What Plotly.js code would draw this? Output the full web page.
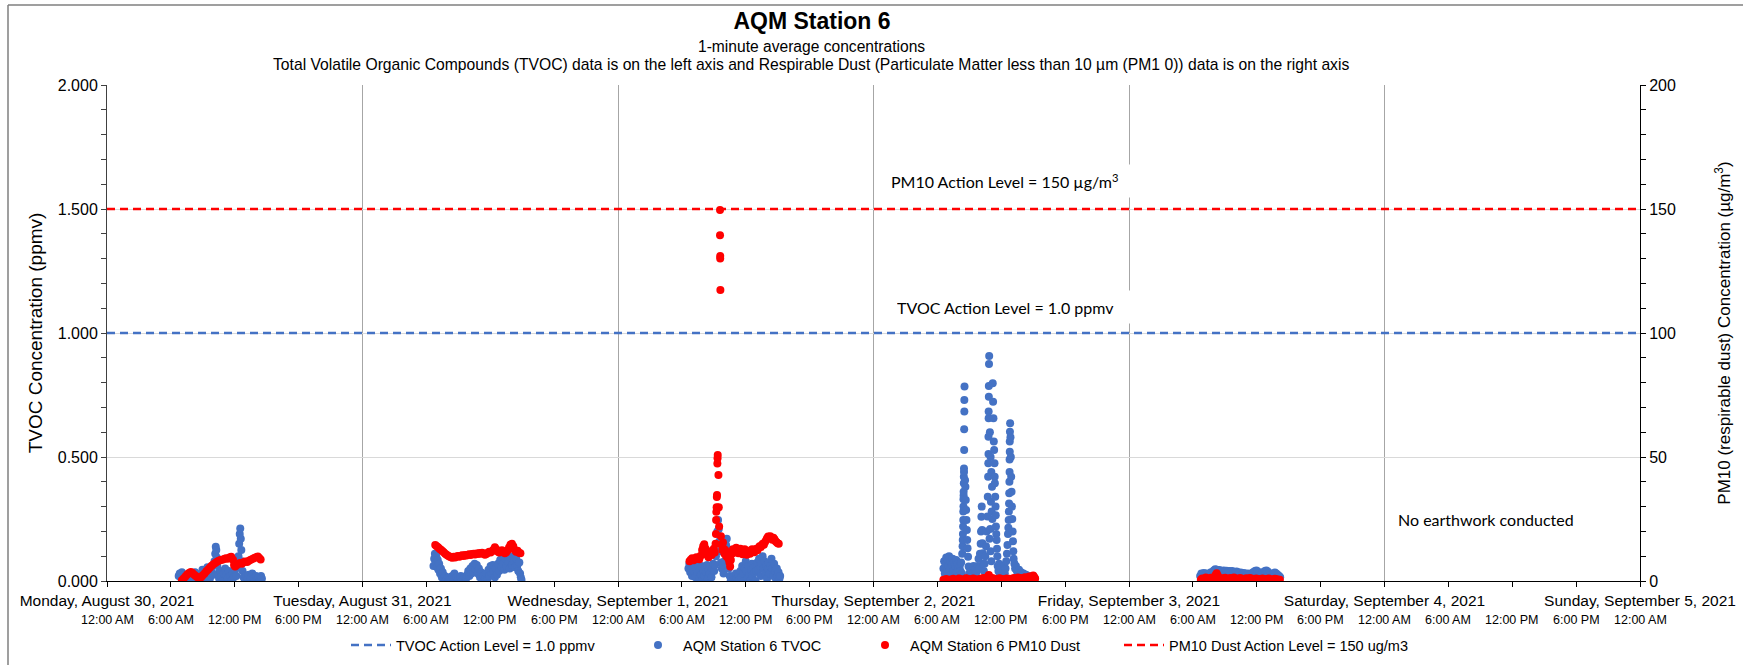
<!DOCTYPE html>
<html><head><meta charset="utf-8">
<script src="https://cdn.plot.ly/plotly-3.0.1.min.js"></script>
<style>html,body{margin:0;padding:0;background:#fff}#chart{width:1743px;height:665px}</style>
</head><body><div id="chart"></div><script>
// ---------------- data ----------------
const dayDates = ['2021-08-30','2021-08-31','2021-09-01','2021-09-02','2021-09-03','2021-09-04','2021-09-05'];
const dayLabels = ['Monday, August 30, 2021','Tuesday, August 31, 2021','Wednesday, September 1, 2021','Thursday, September 2, 2021','Friday, September 3, 2021','Saturday, September 4, 2021','Sunday, September 5, 2021'];
const hourOffsets = [0, 6, 12, 18];
const hourLabels = ['12:00 AM','6:00 AM','12:00 PM','6:00 PM'];
const tvocActionLevel = 1.0;     // ppmv
const pm10ActionLevel = 150;     // ug/m3

// [minutes after midnight, TVOC ppmv]
const tvoc0830 = [[404,0.02],[410,0.03],[416,0.015],[422,0.035],[428,0.01],[434,0.025],[440,0.005],[447,0.02],[454,0.0],[461,0.015],[468,0.03],[475,0.01],[482,0.0],[489,0.02],[496,0.035],[503,0.01],[510,0.025],[517,0.0],[524,0.015],[531,0.03],[538,0.045],[545,0.02],[552,0.005],[559,0.035],[566,0.055],[573,0.03],[580,0.01],[587,0.04],[594,0.06],[601,0.025],[606,0.08],[610,0.11],[613,0.138],[616,0.125],[619,0.095],[622,0.06],[626,0.03],[632,0.01],[638,0.04],[645,0.02],[652,0.0],[659,0.03],[666,0.05],[673,0.025],[680,0.01],[687,0.04],[694,0.02],[701,0.0],[708,0.03],[715,0.015],[722,0.045],[729,0.02],[736,0.06],[741,0.1],[745,0.15],[748,0.19],[751,0.212],[754,0.17],[757,0.125],[760,0.08],[764,0.04],[770,0.015],[777,0.0],[784,0.02],[791,0.005],[798,0.025],[805,0.0],[812,0.015],[819,0.03],[826,0.01],[833,0.0],[840,0.02],[847,0.005],[854,0.015],[861,0.0],[868,0.02],[873,0.01]];
const tvoc0831 = [[400,0.06],[404,0.09],[408,0.11],[412,0.075],[416,0.1],[420,0.055],[424,0.085],[428,0.045],[432,0.07],[437,0.03],[442,0.05],[447,0.015],[452,0.035],[458,0.005],[464,0.02],[470,0.0],[476,0.01],[482,0.0],[488,0.015],[494,0.005],[500,0.0],[506,0.02],[512,0.01],[518,0.03],[524,0.0],[530,0.015],[536,0.0],[542,0.01],[548,0.0],[554,0.02],[560,0.005],[566,0.0],[572,0.015],[578,0.0],[584,0.01],[590,0.025],[596,0.04],[602,0.02],[608,0.05],[614,0.03],[620,0.06],[626,0.035],[632,0.07],[638,0.045],[644,0.065],[650,0.03],[656,0.05],[662,0.015],[668,0.035],[674,0.0],[680,0.02],[686,0.0],[692,0.01],[698,0.03],[704,0.005],[710,0.045],[716,0.02],[722,0.06],[728,0.03],[734,0.065],[740,0.04],[746,0.015],[752,0.05],[758,0.025],[764,0.07],[770,0.04],[776,0.085],[782,0.055],[788,0.1],[794,0.07],[800,0.045],[806,0.09],[812,0.06],[818,0.1],[824,0.075],[830,0.05],[836,0.095],[842,0.065],[848,0.1],[854,0.08],[860,0.055],[866,0.09],[872,0.06],[878,0.04],[884,0.075],[888,0.03],[892,0.015],[896,0.005]];
const tvoc0901 = [[397,0.05],[402,0.07],[407,0.035],[412,0.06],[417,0.02],[422,0.055],[427,0.04],[432,0.065],[437,0.015],[442,0.05],[447,0.03],[452,0.06],[457,0.01],[462,0.045],[467,0.025],[472,0.06],[477,0.005],[482,0.04],[487,0.02],[492,0.055],[497,0.035],[502,0.065],[507,0.01],[512,0.045],[517,0.03],[522,0.06],[527,0.015],[532,0.05],[537,0.07],[542,0.04],[547,0.065],[552,0.1],[556,0.15],[560,0.2],[564,0.246],[568,0.21],[572,0.16],[576,0.12],[580,0.075],[585,0.05],[590,0.065],[595,0.03],[600,0.08],[605,0.11],[609,0.145],[613,0.17],[617,0.13],[621,0.09],[625,0.05],[630,0.02],[635,0.0],[640,0.015],[645,0.0],[650,0.02],[655,0.005],[660,0.0],[665,0.03],[670,0.01],[675,0.0],[680,0.025],[685,0.005],[690,0.04],[695,0.015],[700,0.06],[705,0.03],[710,0.0],[715,0.05],[720,0.08],[725,0.04],[730,0.01],[735,0.06],[740,0.03],[745,0.0],[750,0.045],[755,0.07],[760,0.02],[765,0.055],[770,0.035],[775,0.0],[780,0.04],[785,0.075],[790,0.045],[795,0.09],[800,0.06],[805,0.02],[810,0.07],[815,0.1],[820,0.05],[825,0.08],[830,0.03],[835,0.065],[840,0.01],[845,0.045],[850,0.075],[855,0.03],[860,0.06],[865,0.09],[870,0.05],[875,0.02],[880,0.07],[885,0.04],[890,0.01],[895,0.05],[900,0.02],[905,0.035],[910,0.01],[914,0.02]];
const tvoc0902 = [[394,0.05],[398,0.08],[402,0.03],[406,0.07],[410,0.095],[414,0.04],[418,0.085],[422,0.06],[426,0.1],[430,0.045],[434,0.08],[438,0.025],[442,0.065],[446,0.09],[450,0.04],[454,0.075],[458,0.02],[462,0.06],[466,0.085],[470,0.035],[474,0.07],[478,0.05],[482,0.02],[486,0.06],[490,0.04],[494,0.075],[498,0.03],
 [500,0.11],[502,0.14],[503,0.165],[504,0.19],[505,0.22],[506,0.246],[506,0.28],[507,0.30],[507,0.33],[508,0.345],[508,0.36],[509,0.394],[509,0.42],[510,0.44],[510,0.454],[511,0.528],[511,0.612],[512,0.683],[512,0.73],[513,0.784],
 [516,0.406],[518,0.38],[520,0.327],[522,0.286],[524,0.246],[526,0.206],[528,0.165],[530,0.132],[533,0.098],[536,0.058],[540,0.03],[544,0.05],[548,0.02],[552,0.04],[556,0.01],[560,0.03],[564,0.06],[568,0.02],[572,0.045],[576,0.015],[580,0.035],[584,0.01],
 [588,0.06],[592,0.09],[596,0.05],[600,0.11],[604,0.15],[606,0.2],[608,0.259],[610,0.30],[612,0.206],[614,0.152],[616,0.112],[618,0.071],
 [622,0.04],[626,0.07],[630,0.1],[634,0.14],[638,0.2],[642,0.26],[644,0.34],[646,0.42],[647,0.475],[648,0.512],[648,0.582],[649,0.656],[649,0.683],[650,0.743],[650,0.786],[651,0.875],[652,0.907],
 [654,0.17],[656,0.6],[658,0.21],[660,0.5],[660,0.12],[662,0.32],[664,0.44],[664,0.08],[666,0.28],[668,0.38],[670,0.25],
 [672,0.797],[674,0.723],[676,0.656],[678,0.562],[680,0.528],[682,0.475],[683,0.42],[684,0.394],[686,0.34],[688,0.30],[689,0.265],[690,0.22],[692,0.19],[694,0.165],[696,0.13],[698,0.1],[700,0.06],
 [704,0.04],[708,0.07],[712,0.03],[716,0.055],[720,0.02],[724,0.045],[728,0.015],[732,0.04],[736,0.06],[740,0.03],[744,0.05],[748,0.08],
 [752,0.11],[755,0.145],[758,0.19],[760,0.215],[762,0.246],[763,0.28],[764,0.313],[765,0.354],[766,0.40],[767,0.44],[767,0.49],[768,0.521],[768,0.562],[769,0.602],[770,0.636],
 [772,0.58],[774,0.50],[776,0.42],[778,0.36],[780,0.30],[782,0.25],[784,0.20],[786,0.16],[788,0.12],[790,0.09],[794,0.07],[798,0.05],[803,0.06],[808,0.04],[814,0.03],[820,0.045],[826,0.02],[832,0.035],[838,0.02],[845,0.03],[852,0.015],[860,0.025],[868,0.01],[876,0.02],[884,0.015],[892,0.01],[900,0.02],[908,0.01]];
const tvoc0903 = [[401,0.02],[408,0.03],[415,0.025],[422,0.032],[430,0.02],[438,0.03],[446,0.025],[454,0.028],[462,0.035],[470,0.03],[478,0.042],[486,0.047],[494,0.045],[502,0.04],[510,0.044],[518,0.035],[526,0.04],[534,0.042],[542,0.038],[550,0.041],[558,0.036],[566,0.04],[574,0.038],[582,0.04],[590,0.036],[598,0.032],[606,0.038],[614,0.035],[622,0.03],[630,0.034],[638,0.028],[646,0.032],[654,0.03],[662,0.026],[670,0.03],[678,0.025],[686,0.028],[694,0.032],[702,0.036],[710,0.04],[718,0.042],[726,0.038],[734,0.03],[742,0.026],[750,0.032],[758,0.036],[766,0.04],[774,0.042],[782,0.038],[790,0.032],[798,0.028],[806,0.025],[814,0.03],[822,0.034],[830,0.03],[838,0.025],[846,0.02],[852,0.015]];

// [minutes after midnight, PM10 ug/m3]
const pm0830 = [[422,0.3],[432,1.0],[442,1.8],[452,2.6],[462,3.2],[472,3.6],[480,3.3],[490,2.6],[500,2.0],[510,1.5],[520,1.2],[530,1.5],[540,2.3],[550,3.0],[560,3.9],[570,4.6],[580,5.4],[590,6.1],[600,6.8],[610,7.3],[620,7.8],[630,8.2],[640,8.5],[650,8.6],[660,8.9],[670,9.2],[680,9.0],[690,9.5],[700,9.8],[710,8.6],[716,6.5],[722,5.8],[730,6.4],[740,7.0],[750,7.3],[760,7.0],[770,7.6],[780,7.9],[790,7.7],[800,8.2],[810,8.6],[820,8.9],[830,9.3],[840,9.6],[850,9.9],[858,9.3],[866,8.7]];
const pm0831 = [[410,14.5],[418,14.0],[426,13.6],[434,13.0],[442,12.6],[450,12.1],[458,11.6],[466,11.0],[474,10.6],[482,10.2],[490,9.9],[498,9.6],[506,9.4],[514,9.8],[522,9.5],[530,9.9],[538,10.1],[546,9.8],[554,10.2],[562,10.4],[570,10.1],[578,10.5],[586,10.3],[594,10.6],[602,10.8],[610,10.5],[618,10.9],[626,11.0],[634,10.7],[642,11.1],[650,10.9],[658,11.3],[666,11.0],[674,11.4],[682,11.1],[690,10.6],[698,10.9],[706,11.4],[714,11.8],[722,11.5],[730,12.0],[738,12.6],[746,13.6],[754,12.8],[762,11.9],[770,11.5],[778,12.0],[786,12.4],[794,11.8],[802,11.2],[810,11.6],[818,12.4],[826,13.5],[834,14.6],[842,15.0],[850,14.0],[858,12.5],[866,11.8],[874,12.2],[882,11.4],[890,11.2]];
const pm0901 = [[403,8.0],[410,8.6],[418,9.2],[426,8.4],[434,9.0],[442,9.6],[450,9.1],[458,8.8],[466,10.2],[474,12.5],[480,14.0],[486,14.8],[492,13.2],[498,11.5],[504,10.4],[510,9.6],[516,10.8],[522,12.0],[528,10.5],[534,11.8],[540,13.0],[545,11.5],
 [550,15.0],[552,19.0],[553,24.6],[554,27.9],[556,29.7],[557,33.9],[558,34.7],[560,47.4],[561,49.5],[562,50.8],[566,42.7],[568,29.7],[570,22.0],
 [575,149.6],[575,139.4],[576,131.0],[576,130.0],[577,117.3],
 [580,18.0],[584,14.5],[588,12.5],[592,15.5],[596,13.0],[600,11.0],[604,12.5],[610,10.0],[616,11.2],[622,9.0],[628,7.5],[632,5.8],[636,8.5],[642,11.0],[648,12.8],[654,11.5],[660,12.6],[666,13.4],[672,12.0],[678,11.2],[684,12.4],[690,13.0],[696,11.8],[702,10.8],[708,11.9],[714,12.8],[720,11.5],[726,10.6],[732,11.4],[738,12.2],[744,11.0],[750,12.0],[756,12.8],[762,12.2],[768,11.6],[774,12.5],[780,13.0],[786,12.4],[792,13.3],[798,14.0],[804,13.6],[810,14.4],[816,15.0],[822,14.6],[828,15.6],[834,16.4],[840,17.2],[846,17.9],[852,17.4],[858,18.0],[864,17.2],[870,16.6],[876,17.4],[882,16.8],[888,16.0],[894,15.6],[900,15.2],[906,15.0]];
const pm0902 = [[394,0.5],[402,0.2],[410,0.8],[418,0.3],[426,0.0],[434,0.6],[442,0.2],[450,0.9],[458,0.4],[466,0.0],[474,0.5],[482,1.0],[490,0.3],[498,0.7],[506,0.1],[514,0.6],[522,1.1],[530,0.4],[538,0.8],[546,0.2],[554,0.6],[562,1.0],[570,0.3],[578,0.7],[586,0.2],[594,0.5],[602,0.9],[610,0.4],[618,1.2],[626,0.6],[634,1.0],[642,1.6],[650,2.4],[656,1.5],[662,0.8],[670,1.2],[678,0.5],[686,0.9],[694,0.3],[702,0.7],[710,1.1],[718,0.4],[726,0.8],[734,0.2],[742,0.6],[750,1.0],[758,0.4],[766,0.9],[774,0.3],[782,0.7],[790,1.2],[798,0.5],[806,0.9],[814,1.4],[822,0.8],[830,1.2],[838,0.6],[846,1.0],[854,1.5],[862,0.9],[870,1.3],[878,1.8],[886,1.2],[894,1.7],[900,2.2],[906,1.6],[911,1.0]];
const pm0903 = [[405,0.5],[412,1.0],[419,0.3],[426,0.8],[433,1.4],[440,0.6],[447,0.2],[454,0.9],[461,1.3],[468,0.5],[475,1.0],[482,1.6],[488,2.4],[494,3.1],[500,2.2],[507,1.2],[514,0.6],[521,1.1],[528,0.4],[535,0.9],[542,1.3],[549,0.5],[556,0.2],[563,0.8],[570,1.2],[577,0.4],[584,0.9],[591,1.4],[598,0.6],[605,1.0],[612,0.3],[619,0.8],[626,1.2],[633,0.5],[640,0.9],[647,0.2],[654,0.7],[661,1.1],[668,0.4],[675,0.8],[682,1.2],[689,0.5],[696,0.9],[703,0.3],[710,0.7],[717,1.0],[724,0.4],[731,0.8],[738,0.2],[745,0.6],[752,1.0],[759,0.4],[766,0.8],[773,0.2],[780,0.6],[787,1.0],[794,0.3],[801,0.7],[808,0.2],[815,0.6],[822,0.9],[829,0.4],[836,0.7],[843,0.3],[850,0.5]];

const tvocDays = [tvoc0830, tvoc0831, tvoc0901, tvoc0902, tvoc0903];
const pmDays = [pm0830, pm0831, pm0901, pm0902, pm0903];

// ---------------- helpers ----------------
function stamp(day, minutes){
  const h = Math.floor(minutes/60), m = Math.round(minutes - h*60);
  return day + ' ' + String(h).padStart(2,'0') + ':' + String(m).padStart(2,'0');
}
function flatten(days){
  const x = [], y = [];
  days.forEach((pts, d) => pts.forEach(p => { x.push(stamp(dayDates[d], p[0])); y.push(p[1]); }));
  return {x, y};
}
const tv = flatten(tvocDays), pm = flatten(pmDays);
const xStart = dayDates[0] + ' 00:00', xEnd = dayDates[dayDates.length-1] + ' 00:00';

const hourTickVals = [], hourTickText = [];
for (let d = 0; d < dayDates.length - 1; d++) {
  hourOffsets.forEach((h, k) => { hourTickVals.push(stamp(dayDates[d], h*60)); hourTickText.push(hourLabels[k]); });
}
hourTickVals.push(xEnd); hourTickText.push(hourLabels[0]);

const FONT = 'Liberation Sans, Arial, sans-serif';
const CAL = 'Lato, Carlito, Calibri, sans-serif';
const BLUE = '#4472C4', RED = '#FF0000';
const PL = 107, PW = 1533, PB = 581, PH = 496;   // plot area in px
const px = v => (v - PL) / PW, py = v => (PB - v) / PH;

const traces = [
  {x:[xStart,xEnd], y:[tvocActionLevel,tvocActionLevel], mode:'lines', name:'TVOC Action Level = 1.0 ppmv',
   line:{color:BLUE, width:2.5, dash:'8px,5px'}, yaxis:'y', legend:'legend', hoverinfo:'skip'},
  {x:tv.x, y:tv.y, mode:'markers', name:'AQM Station 6 TVOC', marker:{color:BLUE, size:8}, yaxis:'y', legend:'legend2'},
  {x:pm.x, y:pm.y, mode:'markers', name:'AQM Station 6 PM10 Dust', marker:{color:RED, size:8}, yaxis:'y2', legend:'legend3'},
  {x:[xStart,xEnd], y:[pm10ActionLevel,pm10ActionLevel], mode:'lines', name:'PM10 Dust Action Level = 150 ug/m3',
   line:{color:RED, width:2.5, dash:'8px,5px'}, yaxis:'y2', legend:'legend4', hoverinfo:'skip'}
];

const annotations = hourTickVals.map((v,i) => ({
  x:v, xref:'x', y:0, yref:'paper', xanchor:'center', yanchor:'middle', yshift:-39, showarrow:false,
  text:hourTickText[i], font:{family:FONT, size:12.5, color:'#000'}
}));
annotations.push(
  {xref:'paper', yref:'paper', x:px(811), xanchor:'center', y:py(46.5), yanchor:'middle', showarrow:false,
   text:'1-minute average concentrations', font:{family:FONT, size:15.6, color:'#000'}},
  {xref:'paper', yref:'paper', x:px(811), xanchor:'center', y:py(64.5), yanchor:'middle', showarrow:false,
   text:'Total Volatile Organic Compounds (TVOC) data is on the left axis and Respirable Dust (Particulate Matter less than 10 µm (PM1 0)) data is on the right axis',
   font:{family:FONT, size:15.7, color:'#000'}},
  {xref:'paper', yref:'paper', x:px(886), xanchor:'left', y:py(181), yanchor:'middle', showarrow:false,
   width:240, height:24, align:'left', bgcolor:'#ffffff', borderpad:4,
   text:'PM10 Action Level = 150 µg/m<sup>3</sup>', font:{family:CAL, size:16, color:'#000'}},
  {xref:'paper', yref:'paper', x:px(892), xanchor:'left', y:py(307), yanchor:'middle', showarrow:false,
   width:234, height:24, align:'left', bgcolor:'#ffffff', borderpad:4,
   text:'TVOC Action Level = 1.0 ppmv', font:{family:CAL, size:16, color:'#000'}},
  {xref:'paper', yref:'paper', x:px(1486), xanchor:'center', y:py(519), yanchor:'middle', showarrow:false,
   text:'No earthwork conducted', font:{family:CAL, size:16, color:'#000'}}
);

const legendBase = {orientation:'h', xanchor:'left', y:py(645), yanchor:'middle',
  font:{family:FONT, size:14.5, color:'#000'}, itemwidth:40, bgcolor:'rgba(0,0,0,0)', borderwidth:0};

const layout = {
  width:1743, height:665,
  margin:{l:PL, r:1743-PL-PW, t:85, b:665-PB, autoexpand:false},
  paper_bgcolor:'#ffffff', plot_bgcolor:'#ffffff',
  font:{family:FONT, color:'#000'},
  showlegend:true,
  title:{text:'<b>AQM Station 6</b>', font:{family:FONT, size:23, color:'#000'},
         xref:'container', x:812/1743, xanchor:'center', yref:'container', y:1-21/665, yanchor:'middle'},
  xaxis:{type:'date', range:[xStart,xEnd], tickmode:'array', tickvals:dayDates, ticktext:dayLabels,
         showgrid:true, gridcolor:'#a6a6a6', gridwidth:1, zeroline:false,
         ticks:'outside', ticklen:5, tickcolor:'#000', showline:true, linecolor:'#000', linewidth:1,
         tickfont:{family:FONT, size:15.5, color:'#000'},
         minor:{tickmode:'array', tickvals:hourTickVals, ticks:'outside', ticklen:5, tickcolor:'#000', showgrid:false}},
  yaxis:{range:[0,2], dtick:0.5, tick0:0, tickformat:'.3f', showgrid:true, gridcolor:'#d9d9d9', zeroline:false,
         ticks:'outside', ticklen:5, tickcolor:'#404040', showline:true, linecolor:'#404040', linewidth:1,
         tickfont:{family:FONT, size:16, color:'#000'},
         minor:{dtick:0.1, ticks:'outside', ticklen:5, tickcolor:'#404040', showgrid:false},
         title:{text:'TVOC Concentration (ppmv)', font:{family:FONT, size:19, color:'#000'}, standoff:10}},
  yaxis2:{overlaying:'y', side:'right', range:[0,200], dtick:50, tick0:0, showgrid:false, zeroline:false,
          ticks:'outside', ticklen:5, tickcolor:'#000', showline:true, linecolor:'#000', linewidth:1,
          tickfont:{family:FONT, size:16, color:'#000'},
          minor:{dtick:10, ticks:'outside', ticklen:5, tickcolor:'#000', showgrid:false},
          title:{text:'PM10 (respirable dust) Concentration (µg/m<sup>3</sup>)', font:{family:FONT, size:17, color:'#000'}, standoff:43}},
  legend: Object.assign({}, legendBase, {x:px(346)}),
  legend2:Object.assign({}, legendBase, {x:px(633)}),
  legend3:Object.assign({}, legendBase, {x:px(860)}),
  legend4:Object.assign({}, legendBase, {x:px(1119)}),
  annotations:annotations,
  shapes:[
    {type:'line', xref:'paper', yref:'paper', x0:px(8), x1:px(8), y0:-0.3, y1:py(5), line:{color:'#7f7f7f', width:1.5}},
    {type:'line', xref:'paper', yref:'paper', x0:px(8), x1:1.2, y0:py(5), y1:py(5), line:{color:'#7f7f7f', width:1.5}}
  ]
};

Plotly.newPlot('chart', traces, layout, {staticPlot:true, displayModeBar:false});
</script></body></html>
